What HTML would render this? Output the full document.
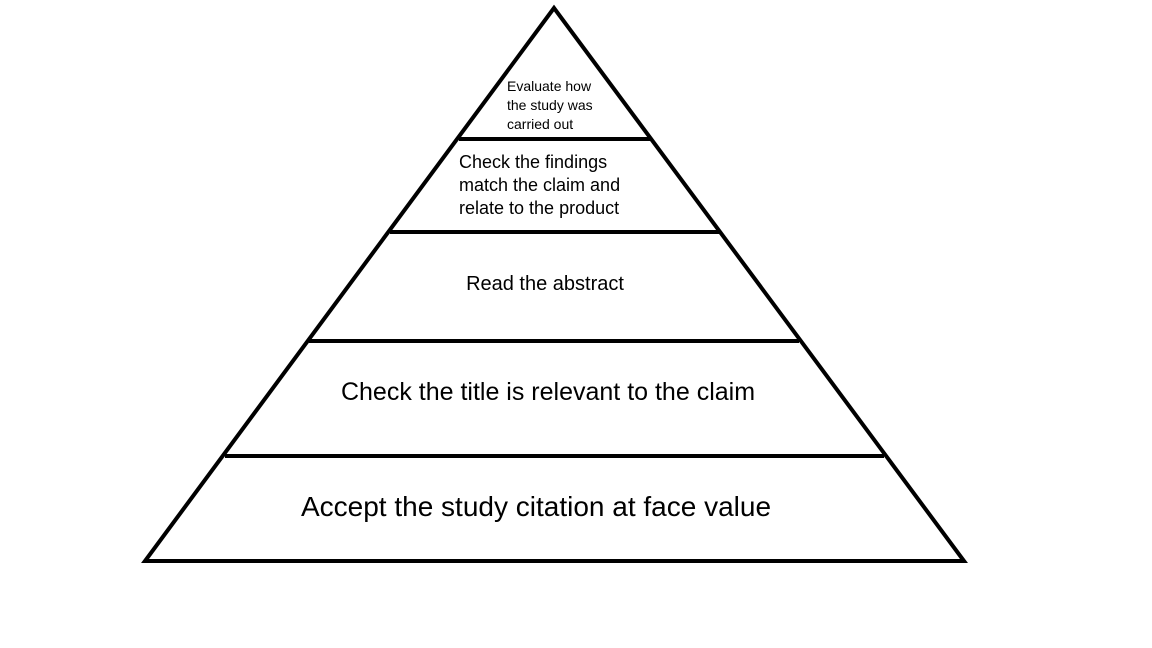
<!DOCTYPE html>
<html><head><meta charset="utf-8"><style>
html,body{margin:0;padding:0;background:#fff;}
svg{display:block;}
text{font-family:"Liberation Sans",Arial,sans-serif;fill:#000;}
</style></head><body>
<svg width="1152" height="648" viewBox="0 0 1152 648" xmlns="http://www.w3.org/2000/svg">
<rect width="1152" height="648" fill="#fff"/>
<polygon points="554,8 145,561 964,561" fill="none" stroke="#000" stroke-width="4" stroke-linejoin="miter"/>
<line x1="459" y1="139" x2="650" y2="139" stroke="#000" stroke-width="4"/>
<line x1="390" y1="232" x2="719" y2="232" stroke="#000" stroke-width="4"/>
<line x1="309" y1="341" x2="799" y2="341" stroke="#000" stroke-width="4"/>
<line x1="225" y1="456" x2="884" y2="456" stroke="#000" stroke-width="4"/>
<text x="507" y="91" font-size="14">Evaluate how</text>
<text x="507" y="110" font-size="14">the study was</text>
<text x="507" y="129" font-size="14">carried out</text>
<text x="459" y="168" font-size="18">Check the findings</text>
<text x="459" y="191" font-size="18">match the claim and</text>
<text x="459" y="214" font-size="18">relate to the product</text>
<text x="545" y="290" font-size="20" text-anchor="middle">Read the abstract</text>
<text x="548" y="400" font-size="25" text-anchor="middle">Check the title is relevant to the claim</text>
<text x="536" y="516" font-size="28" text-anchor="middle">Accept the study citation at face value</text>
</svg>
</body></html>
